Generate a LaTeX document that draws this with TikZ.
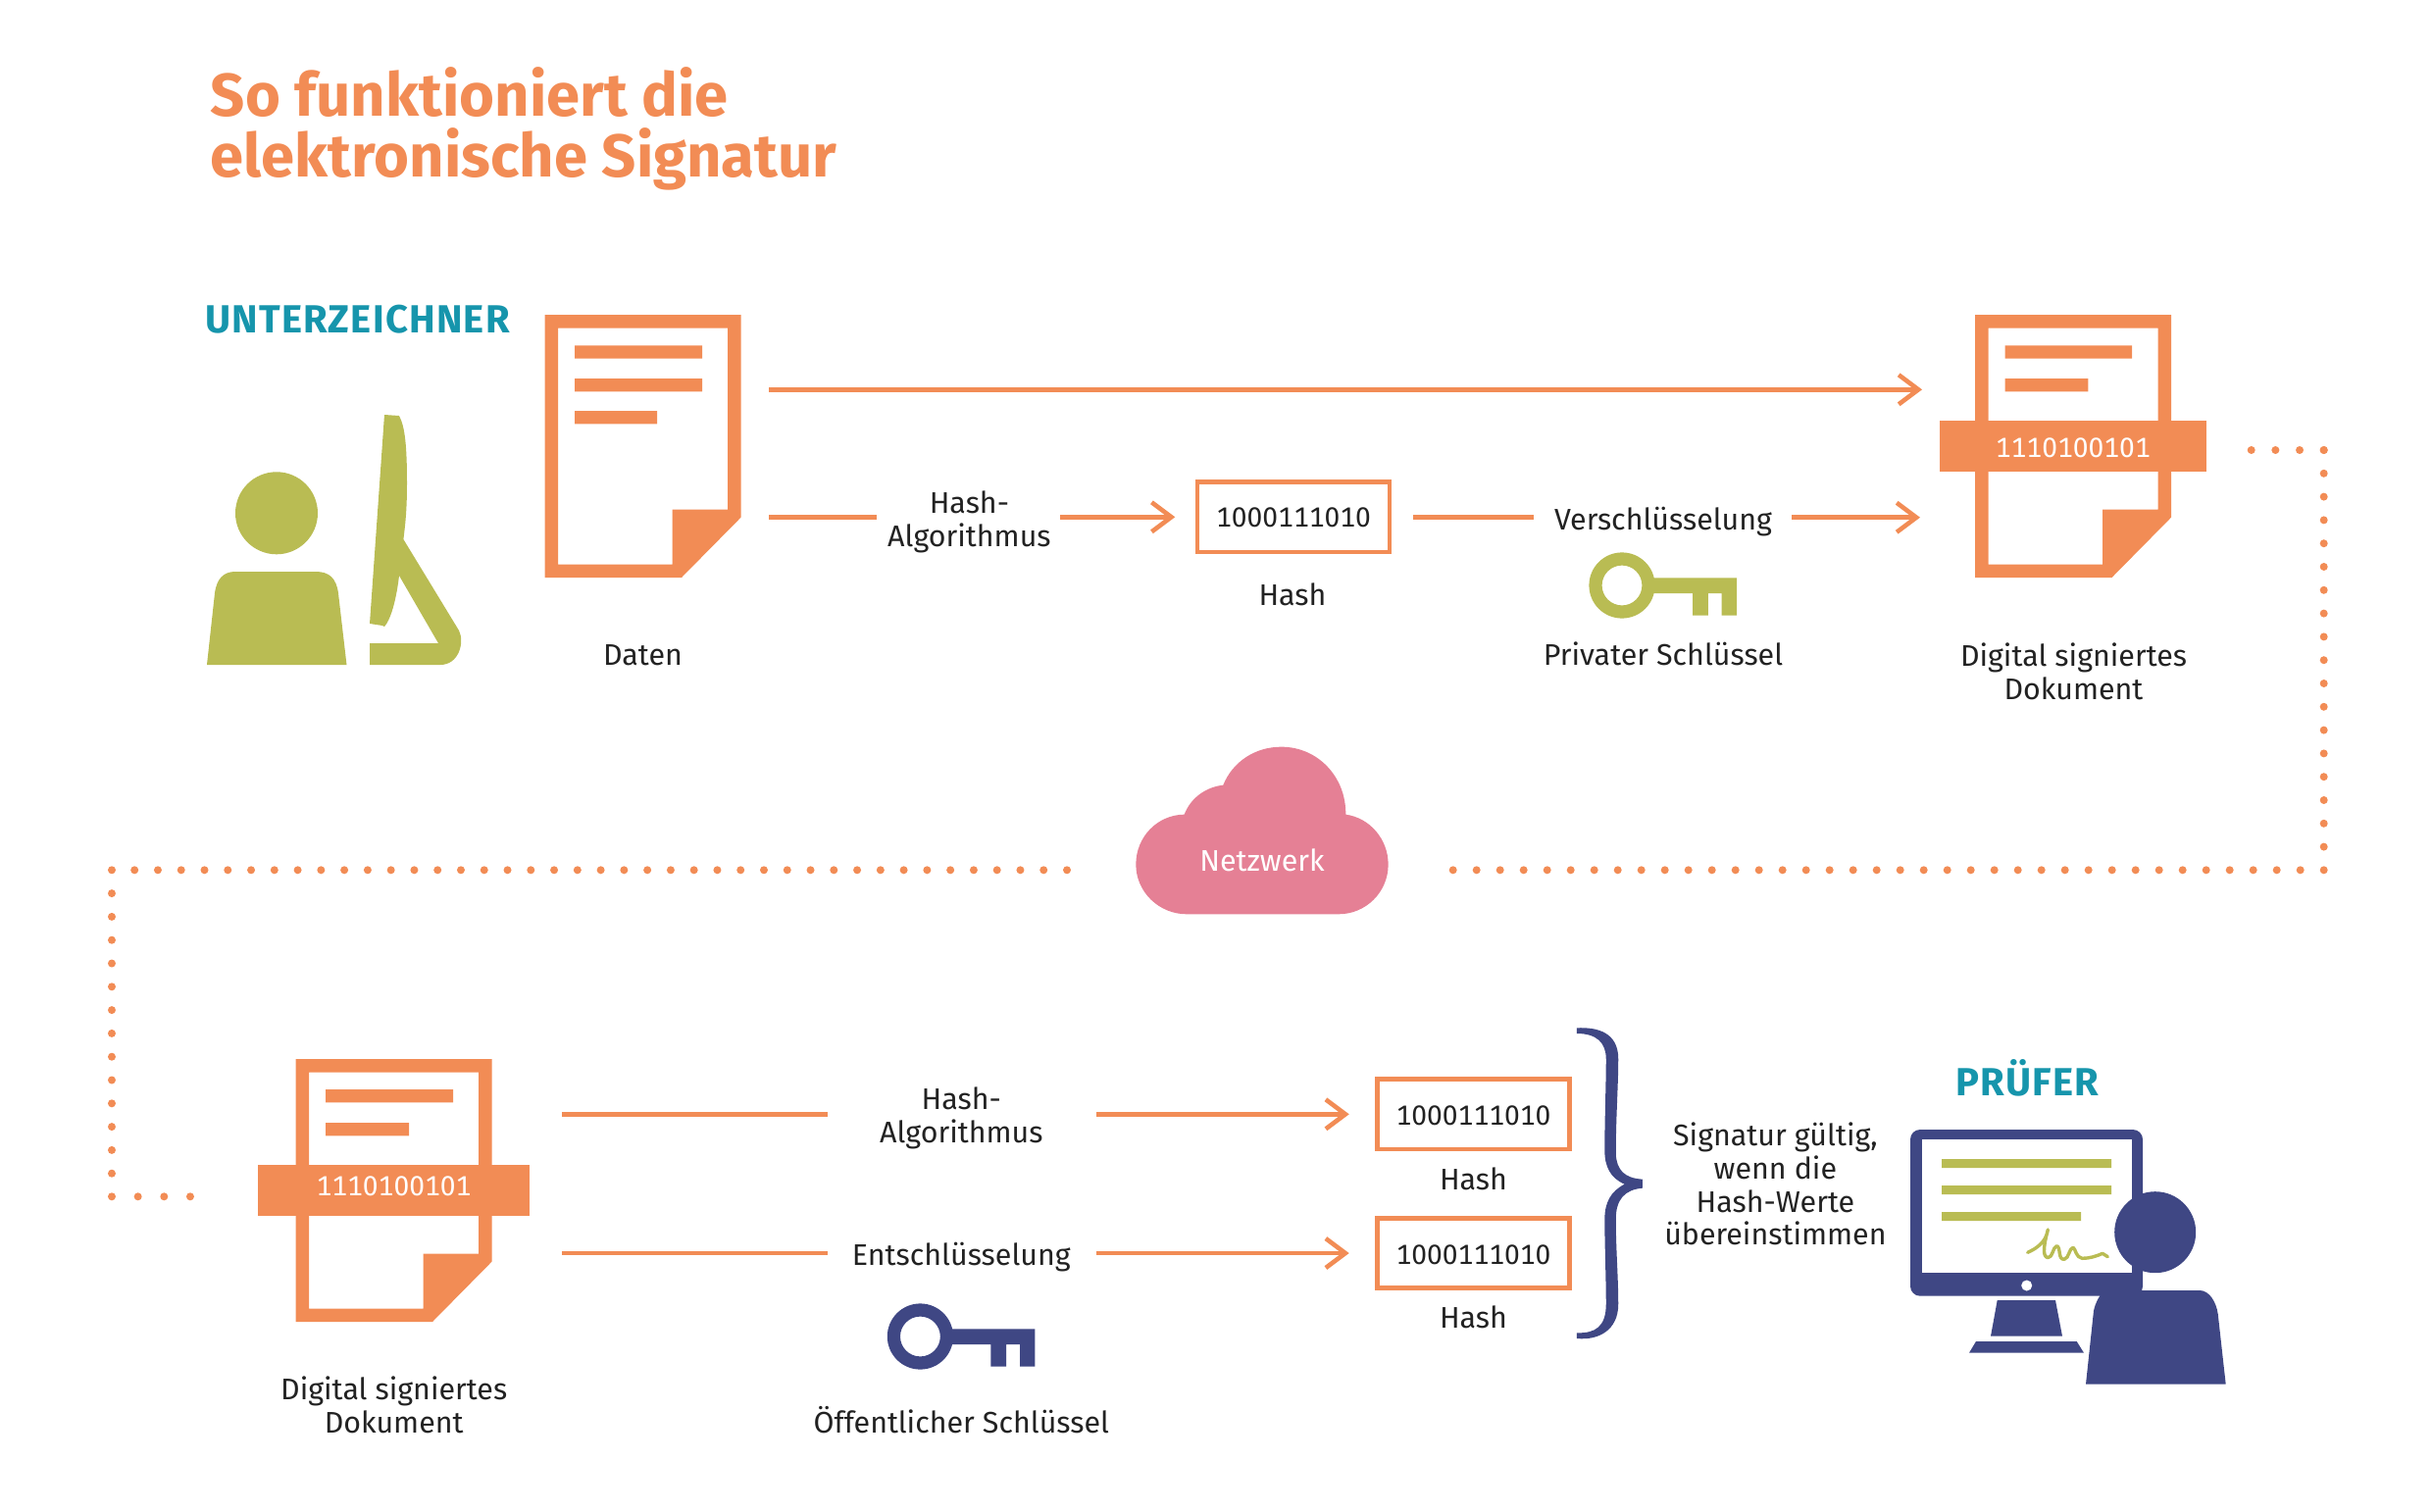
\documentclass[tikz,border=0pt]{standalone}
\usepackage{fontspec}
\setmainfont{Fira Sans}[Numbers={Lining,Monospaced}]
\usetikzlibrary{arrows.meta,calc}
\definecolor{orng}{HTML}{F28C55}
\definecolor{olv}{HTML}{B9BC53}
\definecolor{nvy}{HTML}{3F4784}
\definecolor{tl}{HTML}{1695AC}
\definecolor{pnk}{HTML}{E58095}
\definecolor{ink}{HTML}{222222}
\tikzset{
  x=0.5pt,y=-0.5pt,
  lbl/.style={anchor=base,inner sep=0,outer sep=0,yshift=-0.25pt,text=ink,font=\fontsize{15.2}{17}\selectfont,align=center},
  ttl/.style={anchor=base west,inner sep=0,text=orng,font=\fontsize{30.8}{31}\selectfont\bfseries},
  who/.style={anchor=base west,inner sep=0,text=tl,font=\fontsize{20}{20}\selectfont\bfseries\addfontfeatures{LetterSpace=3}},
  conn/.style={orng,line width=2.3pt},
  arr/.style={conn,-{Straight Barb[length=10pt,width=15pt,line width=2.3pt]}},
  dots/.style={orng,line width=4pt,line cap=round,dash pattern=on 0pt off #1},
  hashbox/.style={draw=orng,line width=2.3pt,fill=white,minimum width=98.15pt,minimum height=35.7pt,inner sep=0,outer sep=0,text=ink,text depth=0pt,font=\fontsize{14.1}{17}\selectfont},
  band/.style={fill=orng,minimum height=26.2pt,inner sep=0,outer sep=0,text=white,text depth=0pt,font=\fontsize{14.1}{17}\selectfont},
  docbox/.style={minimum width=100pt,minimum height=134pt,inner sep=0,outer sep=0},
  docpic/.pic={
    \fill[orng,even odd rule] (0,0)--(200,0)--(200,206.7)--(139.5,268)--(0,268)--cycle
      (13.5,13.5)--(186.5,13.5)--(186.5,198.7)--(130,198.7)--(130,254.5)--(13.5,254.5)--cycle;
  },
  keypic/.pic={
    \fill[pic actions,even odd rule] (0,0) circle (33.6) (0,0) circle (20.4);
    \fill[pic actions] (30,-7.7)--(117,-7.7)--(117,30.7)--(101.7,30.7)--(101.7,8)--(87.8,8)--(87.8,30.7)--(72,30.7)--(72,8)--(30,8)--cycle;
  },
}
\begin{document}
\begin{tikzpicture}
\useasboundingbox (0,0) rectangle (2480,1542);
% title
\node[ttl] (t1) at (214.5,118.8) {So funktioniert die};
\node[ttl] (t2) at (214.5,180.8) {elektronische Signatur};
\node[who] (unt) at (209,339) {UNTERZEICHNER};
\node[who] (pru) at (1994,1117.3) {PRÜFER};
% signer
\fill[olv] (282,523.3) circle (42);
\fill[olv] (211,678)--(219,605) .. controls (221,590) and (228,583) .. (240,583)--(322,583) .. controls (336,583) and (343,590) .. (345,605)--(353.5,678)--cycle;
\fill[olv] (392,423)--(407,424) .. controls (413,435) and (415,455) .. (415,493) .. controls (415,515) and (414,530) .. (411.4,550)--(468,643) .. controls (474,655) and (468,678) .. (449,678)--(377,678)--(377,656)--(447,656)--(407,587) .. controls (405,605) and (400,630) .. (392,639)--(390,638)--(377,636)--cycle;
% documents
\node[docbox] (doc1) at (655.5,455) {};
\pic at (555.5,321) {docpic};
\fill[orng] (586,352.3) rectangle (716,365.7) (586,386) rectangle (716,399.3) (586,419) rectangle (670,432.3);
\node[docbox] (doc2) at (2114,455) {};
\pic at (2014,321) {docpic};
\fill[orng] (2044.7,352.3) rectangle (2174,365.7) (2044.7,386) rectangle (2129.3,399.3);
\node[band,minimum width=135.9pt,text height=11.5pt] (band2) at (2113.85,455.15) {1110100101};
\node[docbox] (doc3) at (401.5,1214) {};
\pic at (301.5,1080) {docpic};
\fill[orng] (332,1111) rectangle (462,1124.3) (332,1145) rectangle (417,1158.3);
\node[band,minimum width=138.5pt,text height=5.4pt] (band3) at (401.5,1213.85) {1110100101};
% labels
\node[lbl] (daten) at (655.5,678.3) {Daten};
\node[lbl] (l1) at (988.4,523.3) {Hash-};
\node[lbl] (l2) at (988.4,556.7) {Algorithmus};
\node[hashbox,text height=9.7pt] (hash1) at (1319,527.3) {1000111010};
\node[lbl] (hashl1) at (1318,616.7) {Hash};
\node[lbl] (versch) at (1696,540) {Verschlüsselung};
\node[lbl] (priv) at (1696,677.7) {Privater Schlüssel};
\node[lbl] (dig1) at (2114.5,679) {Digital signiertes};
\node[lbl] (dig2) at (2114.5,713) {Dokument};
\node[lbl] (dig3) at (401.7,1426.7) {Digital signiertes};
\node[lbl] (dig4) at (401.7,1461) {Dokument};
\node[lbl] (l3) at (980.3,1131) {Hash-};
\node[lbl] (l4) at (980.3,1165) {Algorithmus};
\node[lbl] (ent) at (980.3,1290) {Entschlüsselung};
\node[lbl] (pub) at (980.3,1460.7) {Öffentlicher Schlüssel};
\node[hashbox,text height=11.4pt] (hash2) at (1502.5,1136.3) {1000111010};
\node[lbl] (hashl2) at (1502.5,1213.3) {Hash};
\node[hashbox,text height=11.7pt] (hash3) at (1502.5,1278) {1000111010};
\node[lbl] (hashl3) at (1502.5,1354) {Hash};
\node[lbl] (s1) at (1810.4,1168.3) {Signatur gültig,};
\node[lbl] (s2) at (1810.4,1202.3) {wenn die};
\node[lbl] (s3) at (1810.4,1235.7) {Hash-Werte};
\node[lbl] (s4) at (1810.4,1269) {übereinstimmen};
% keys
\pic[olv] at (1654,597) {keypic};
\pic[nvy] at (938.4,1363) {keypic};
% connectors, upper row
\coordinate (a0) at (784.4,397.3);
\draw[arr,shorten >=27pt] (a0) -- (a0 -| doc2.west);
\coordinate (a1) at (784.4,527.7);
\coordinate (a2) at (894,527.7);
\draw[conn] (a1) -- (a2);
\coordinate (a3) at (1081,527.3);
\draw[arr,shorten >=11.3pt] (a3) -- (hash1.west);
\coordinate (a4) at (1441,527.7);
\coordinate (a5) at (1564.4,527.7);
\draw[conn] (a4) -- (a5);
\coordinate (a6) at (1827,527.7);
\draw[arr,shorten >=28pt] (a6) -- (a6 -| doc2.west);
% connectors, lower row
\coordinate (b1) at (573.3,1136.3);
\coordinate (b2) at (843.5,1136.3);
\draw[conn] (b1) -- (b2);
\coordinate (b3) at (1118.3,1136.3);
\draw[arr,shorten >=14.3pt] (b3) -- (hash2.west);
\coordinate (b4) at (573.3,1278);
\coordinate (b5) at (843.5,1278);
\draw[conn] (b4) -- (b5);
\coordinate (b6) at (1118.3,1278);
\draw[arr,shorten >=14.3pt] (b6) -- (hash3.west);
% brace
\begin{scope}[shift={(1380,1030)},xscale=0.357,yscale=0.3333]
\fill[nvy] (638,55) .. controls (700,52) and (757,70) .. (757,150) .. controls (757,230) and (750,330) .. (750,440) .. controls (752,490) and (775,515) .. (826,518) -- (826,545) .. controls (775,550) and (750,580) .. (750,640) .. controls (750,730) and (757,820) .. (757,900) .. controls (757,980) and (700,1012) .. (638,1005) -- (638,988) .. controls (690,990) and (722,970) .. (722,900) .. controls (722,820) and (718,720) .. (718,640) .. controls (718,590) and (735,555) .. (775,533) .. controls (735,515) and (718,480) .. (718,430) .. controls (718,330) and (722,230) .. (722,150) .. controls (722,100) and (695,72) .. (638,72) -- cycle;
\end{scope}
% verifier
\fill[nvy,rounded corners=5pt] (1948,1152) rectangle (2185,1321.7);
\fill[white] (1959.5,1161.7) rectangle (2174,1298);
\fill[olv] (1980,1182) rectangle (2153,1191) (1980,1209) rectangle (2153,1218) (1980,1236) rectangle (2122,1245);
\fill[white] (2066.7,1311) circle (5.5);
\fill[nvy] (2036.7,1326)--(2096,1326)--(2103,1362.7)--(2030,1362.7)--cycle;
\fill[nvy] (2015,1368)--(2117.7,1368)--(2125,1379.7)--(2008,1379.7)--cycle;
\begin{scope}[shift={(1920,1040)},scale=0.3333]
\draw[olv,line width=1.7pt,line cap=round,line join=round] (443,712) .. controls (470,700) and (500,680) .. (505,642) .. controls (495,680) and (485,725) .. (505,728) .. controls (520,728) and (520,695) .. (532,692) .. controls (545,695) and (535,735) .. (555,733) .. controls (570,730) and (570,698) .. (582,697) .. controls (590,700) and (590,728) .. (610,730) .. controls (630,730) and (650,725) .. (672,715) -- (688,725);
\end{scope}
\fill[nvy] (2197.7,1256.7) circle (41.5);
\fill[nvy] (2127,1411.7)--(2135,1336.7) .. controls (2137,1328) and (2140,1323) .. (2145,1316)--(2243,1316) .. controls (2253,1316) and (2260,1328) .. (2261.7,1340)--(2269.7,1411.7)--cycle;
% cloud
\begin{scope}[shift={(1130,740)},scale=0.3333]
\fill[pnk] (240,577) .. controls (156,577) and (85,509) .. (85,425) .. controls (85,341) and (150,273) .. (233,272) .. controls (252,222) and (298,188) .. (352,182) .. controls (380,112) and (448,65) .. (530,65) .. controls (640,65) and (728,155) .. (727,272) .. controls (800,282) and (857,347) .. (857,425) .. controls (857,509) and (789,577) .. (705,577) -- cycle;
\end{scope}
\node[lbl,text=white] (net) at (1287,888) {Netzwerk};
% dotted connectors
\coordinate (d0) at (2295.7,459);
\coordinate (d1) at (2369.7,459);
\coordinate (d2) at (2369.7,887.3);
\coordinate (d3) at (1478,887.3);
\coordinate (d4) at (1088,887.3);
\coordinate (d5) at (114,887.3);
\coordinate (d6) at (114,1220.3);
\coordinate (d7) at (194.5,1220.3);
\draw[dots=12.33pt] (d0) -- (d1);
\draw[dots=11.9pt] (d1) -- (d2);
\draw[dots=12pt] (d2) -- (d3);
\draw[dots=11.885pt] (d4) -- (d5);
\draw[dots=11.9pt] (d5) -- (d6);
\draw[dots=13.33pt] (d6) -- (d7);
\end{tikzpicture}
\end{document}
